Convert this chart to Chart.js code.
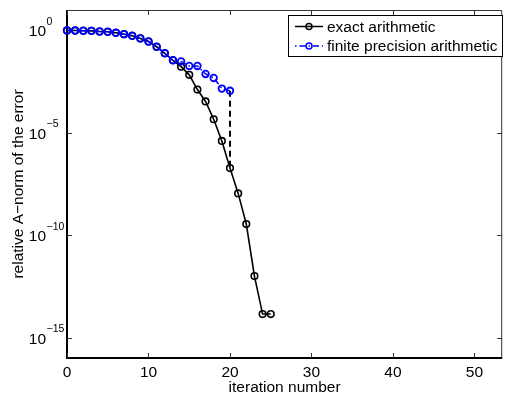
<!DOCTYPE html>
<html>
<head>
<meta charset="utf-8">
<script src="https://cdn.jsdelivr.net/npm/chart.js@4/dist/chart.umd.min.js"></script>
<style>
  html, body { margin: 0; padding: 0; background: #fff; }
  canvas { display: block; }
</style>
</head>
<body>
<canvas id="errChart" width="508" height="394"></canvas>
<script>
// ===== DATA =====
const iterExact = [0, 1, 2, 3, 4, 5, 6, 7, 8, 9, 10, 11, 12, 13, 14, 15, 16, 17, 18, 19, 20, 21, 22, 23, 24, 25];
const exactErr = [1.0, 0.99, 0.97, 0.96, 0.89, 0.86, 0.77, 0.66, 0.55, 0.41, 0.29, 0.16, 0.077, 0.035, 0.017,
                  6.8e-3, 1.3e-3, 3.4e-4, 4.6e-5, 4.0e-6, 1.9e-7, 1.1e-8, 3.5e-10, 1.0e-12, 1.4e-14, 1.4e-14];
const iterFinite = [0, 1, 2, 3, 4, 5, 6, 7, 8, 9, 10, 11, 12, 13, 14, 15, 16, 17, 18, 19, 20];
const finiteErr = [1.0, 0.99, 0.97, 0.96, 0.89, 0.86, 0.77, 0.66, 0.55, 0.41, 0.29, 0.16, 0.077, 0.035, 0.031,
                   0.0185, 0.0185, 0.0075, 0.0048, 1.45e-3, 1.13e-3];
const jumpIter = 20; // dashed drop between the two curves
const xTicks = [0, 10, 20, 30, 40, 50];
const yTickExps = [0, -5, -10, -15];
const seriesLabels = ["exact arithmetic", "finite precision arithmetic"];
const xTitle = "iteration number";
const yTitle = "relative A\u2212norm of the error";

const FONT = "'Liberation Sans', Arial, Helvetica, sans-serif";
const BLUE = "#0000ff";

const toPts = (xs, ys) => xs.map((x, i) => ({ x: x, y: ys[i] }));

// ===== FRAME, TICKS, LABELS =====
const axesPlugin = {
    id: 'matlabAxes',
    beforeDatasetsDraw(chart) {
        const { ctx, chartArea: a, scales: { x, y } } = chart;
        ctx.save();
        // top / right frame (thin)
        ctx.strokeStyle = '#333';
        ctx.lineWidth = 1;
        ctx.beginPath();
        ctx.moveTo(a.left, a.top + 0.5); ctx.lineTo(a.right - 0.5, a.top + 0.5); ctx.lineTo(a.right - 0.5, a.bottom);
        ctx.stroke();
        // left / bottom axes
        ctx.strokeStyle = '#000';
        ctx.lineWidth = 2;
        ctx.beginPath();
        ctx.moveTo(a.left, a.top); ctx.lineTo(a.left, a.bottom); ctx.lineTo(a.right, a.bottom);
        ctx.stroke();

        // inward ticks
        ctx.lineWidth = 1;
        ctx.strokeStyle = '#333';
        ctx.beginPath();
        xTicks.forEach(v => {
            const px = Math.round(x.getPixelForValue(v)) + 0.5;
            ctx.moveTo(px, a.bottom); ctx.lineTo(px, a.bottom - 5);
            ctx.moveTo(px, a.top); ctx.lineTo(px, a.top + 5);
        });
        yTickExps.forEach(e => {
            const py = Math.round(y.getPixelForValue(Math.pow(10, e))) + 0.5;
            ctx.moveTo(a.left, py); ctx.lineTo(a.left + 5, py);
            ctx.moveTo(a.right, py); ctx.lineTo(a.right - 5, py);
        });
        ctx.stroke();

        // x tick labels
        ctx.fillStyle = '#000';
        ctx.font = `15.5px ${FONT}`;
        ctx.textAlign = 'center';
        ctx.textBaseline = 'alphabetic';
        xTicks.forEach(v => ctx.fillText(String(v), x.getPixelForValue(v), a.bottom + 19));

        // y tick labels: 10 with superscript exponent
        yTickExps.forEach(e => {
            const py = y.getPixelForValue(Math.pow(10, e));
            ctx.font = `15.5px ${FONT}`;
            ctx.textAlign = 'right';
            ctx.fillText('10', 46, py + 6);
            ctx.font = `10.5px ${FONT}`;
            ctx.textAlign = 'left';
            ctx.fillText(e === 0 ? '0' : '\u2212' + Math.abs(e), 46.5, py - 5.5);
        });

        // axis titles
        ctx.font = `15.5px ${FONT}`;
        ctx.textAlign = 'center';
        ctx.fillText(xTitle, (a.left + a.right) / 2, 391.5);
        ctx.save();
        ctx.translate(22.5, (a.top + a.bottom) / 2);
        ctx.rotate(-Math.PI / 2);
        ctx.fillText(yTitle, 0, 0);
        ctx.restore();
        ctx.restore();
    },
    afterDatasetsDraw(chart) {
        const { ctx } = chart;
        ctx.save();
        // legend box
        const bx = 288.5, by = 15.5, bw = 214, bh = 41;
        ctx.fillStyle = '#fff';
        ctx.fillRect(bx, by, bw, bh);
        ctx.strokeStyle = '#000';
        ctx.lineWidth = 1;
        ctx.strokeRect(bx, by, bw, bh);

        const rows = [
            { label: seriesLabels[0], color: '#000', dash: [], y: 26.5 },
            { label: seriesLabels[1], color: BLUE, dash: [1.5, 3, 6, 3], y: 46 }
        ];
        rows.forEach(r => {
            ctx.strokeStyle = r.color;
            ctx.lineWidth = 1.5;
            ctx.setLineDash(r.dash);
            ctx.beginPath();
            ctx.moveTo(295, r.y); ctx.lineTo(323, r.y);
            ctx.stroke();
            ctx.setLineDash([]);
            ctx.beginPath();
            ctx.arc(309, r.y, 3, 0, Math.PI * 2);
            ctx.stroke();
            ctx.fillStyle = '#000';
            ctx.font = `15.5px ${FONT}`;
            ctx.textAlign = 'left';
            ctx.textBaseline = 'middle';
            ctx.fillText(r.label, 327, r.y + 1);
        });
        ctx.restore();
    }
};

// ===== CHART =====
new Chart(document.getElementById('errChart').getContext('2d'), {
    type: 'line',
    data: {
        datasets: [
            {
                label: seriesLabels[1],
                data: toPts(iterFinite, finiteErr),
                borderColor: BLUE, borderWidth: 1.5, borderDash: [6, 3, 1.5, 3],
                pointRadius: 3.3, pointBorderWidth: 1.8, pointBorderColor: BLUE,
                pointBackgroundColor: 'rgba(0,0,0,0)',
                tension: 0, clip: false, order: 0
            },
            {
                label: seriesLabels[0],
                data: toPts(iterExact, exactErr),
                borderColor: '#000', borderWidth: 1.6,
                pointRadius: 3.3, pointBorderWidth: 1.6, pointBorderColor: '#000',
                pointBackgroundColor: 'rgba(0,0,0,0)',
                tension: 0, clip: false, order: 1
            },
            {
                label: 'drop',
                data: [{ x: jumpIter, y: finiteErr[jumpIter] }, { x: jumpIter, y: exactErr[jumpIter] }],
                borderColor: '#000', borderWidth: 2, borderDash: [6, 4],
                pointRadius: 0, tension: 0, clip: false, order: 2
            }
        ]
    },
    options: {
        responsive: false,
        animation: false,
        layout: { padding: { left: 67, right: 2, top: 10, bottom: 36 } },
        plugins: { legend: { display: false }, tooltip: { enabled: false } },
        scales: {
            x: { type: 'linear', min: 0, max: 53.4, display: false },
            y: { type: 'logarithmic', min: 1e-16, max: 10, display: false }
        }
    },
    plugins: [axesPlugin]
});
</script>
</body>
</html>
